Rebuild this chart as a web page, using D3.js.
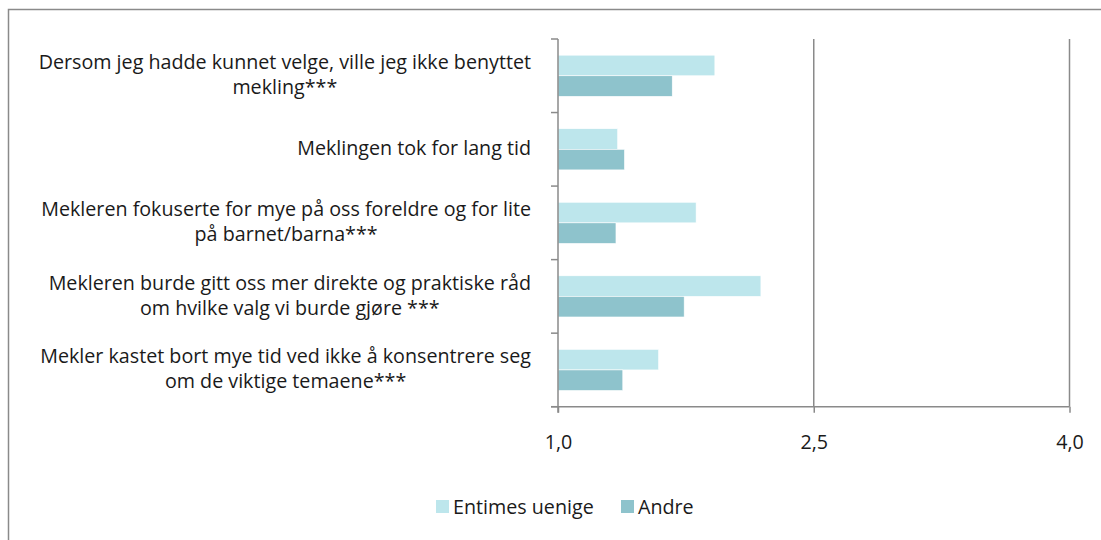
<!DOCTYPE html>
<html>
<head>
<meta charset="utf-8">
<script src="https://cdn.jsdelivr.net/npm/d3@7"></script>
<style>
  html, body { margin: 0; padding: 0; background: #fff; }
  svg { display: block; }
  text { font-family: "Open Sans", Roboto, sans-serif; fill: #1a1a1a; }
</style>
</head>
<body>
<svg id="chart"></svg>
<script>
'use strict';

// chart data
const categories = [
  'Dersom jeg hadde kunnet velge, ville jeg ikke benyttet\nmekling***',
  'Meklingen tok for lang tid',
  'Mekleren fokuserte for mye på oss foreldre og for lite\npå barnet/barna***',
  'Mekleren burde gitt oss mer direkte og praktiske råd\nom hvilke valg vi burde gjøre ***',
  'Mekler kastet bort mye tid ved ikke å konsentrere seg\nom de viktige temaene***'
];
const seriesNames = ['Entimes uenige', 'Andre'];
const entimes = [1.92, 1.35, 1.81, 2.19, 1.59];
const andre = [1.67, 1.39, 1.34, 1.74, 1.38];
const tickValues = [1.0, 2.5, 4.0];

const W = 1101, H = 540;
const colors = ['#bde6ec', '#8ec3cc'];
const axisGray = '#8a8a8a';
const fontSize = 19.7;
const fontFamily = '"Open Sans", Roboto, sans-serif';

const svg = d3.select('#chart').attr('width', W).attr('height', H);

// outer frame (only left and top show inside the picture)
svg.append('rect')
  .attr('x', 8.5).attr('y', 9.5)
  .attr('width', W + 20).attr('height', H + 20)
  .attr('fill', 'none').attr('stroke', axisGray).attr('stroke-width', 1.5);

const yTop = 39, yBottom = 406.7;
const x = d3.scaleLinear().domain([1, 4]).range([558, 1069.5]);
const y = d3.scaleBand().domain(d3.range(categories.length))
  .range([yTop, yBottom]).paddingInner(0.44).paddingOuter(0.22);
const ySub = d3.scaleBand().domain([0, 1]).range([0, y.bandwidth()]);
const step = y.step();

// vertical gridlines at the non-origin ticks
svg.append('g')
  .selectAll('line')
  .data(tickValues.slice(1))
  .join('line')
  .attr('x1', d => x(d)).attr('x2', d => x(d))
  .attr('y1', yTop).attr('y2', yBottom)
  .attr('stroke', axisGray).attr('stroke-width', 1.5);

// bars
const rows = categories.map((c, i) => ({ i, vals: [entimes[i], andre[i]] }));
const groups = svg.append('g')
  .selectAll('g')
  .data(rows)
  .join('g')
  .attr('transform', d => `translate(0,${y(d.i)})`);
groups.selectAll('rect')
  .data(d => d.vals.map((v, s) => ({ v, s })))
  .join('rect')
  .attr('x', x(1))
  .attr('y', d => ySub(d.s))
  .attr('width', d => x(d.v) - x(1))
  .attr('height', ySub.bandwidth())
  .attr('fill', d => colors[d.s])
  .attr('stroke', '#fff').attr('stroke-width', 0.6);

// left axis with category-boundary ticks
const leftAxis = svg.append('g');
leftAxis.append('line')
  .attr('x1', x(1)).attr('x2', x(1))
  .attr('y1', yTop).attr('y2', yBottom + 6)
  .attr('stroke', axisGray).attr('stroke-width', 1.5);
leftAxis.selectAll('line.tick')
  .data(d3.range(categories.length + 1))
  .join('line')
  .attr('class', 'tick')
  .attr('x1', x(1) - 7).attr('x2', x(1))
  .attr('y1', d => yTop + d * step).attr('y2', d => yTop + d * step)
  .attr('stroke', axisGray).attr('stroke-width', 1.5);

// bottom axis
const xAxis = d3.axisBottom(x)
  .tickValues(tickValues)
  .tickSize(6)
  .tickPadding(22)
  .tickFormat(d => d3.format('.1f')(d).replace('.', ','));
const gx = svg.append('g')
  .attr('transform', `translate(0,${yBottom})`)
  .call(xAxis);
gx.select('.domain').remove();
gx.append('line')
  .attr('x1', x(1) - 7).attr('x2', x(4))
  .attr('stroke', axisGray).attr('stroke-width', 1.5);
gx.selectAll('.tick line').attr('stroke', axisGray).attr('stroke-width', 1.5);
gx.selectAll('.tick text')
  .style('font-family', fontFamily)
  .style('font-size', fontSize + 'px')
  .attr('fill', '#1a1a1a');

// category labels: centred lines, block right-aligned to the axis
const lineH = 25;
const labels = svg.append('g');
categories.forEach((c, i) => {
  const lines = c.split('\n');
  const cy = y(i) + y.bandwidth() / 2;
  const t = labels.append('text')
    .attr('font-size', fontSize)
    .attr('text-anchor', 'middle');
  const spans = t.selectAll('tspan')
    .data(lines)
    .join('tspan')
    .text(d => d);
  // width of the widest line sets the block's centre
  let maxW = 0;
  spans.each(function () { maxW = Math.max(maxW, this.getComputedTextLength()); });
  const cx = 531 - maxW / 2;
  spans.attr('x', cx)
    .attr('y', (d, k) => cy + 6 + (k - (lines.length - 1) / 2) * lineH);
});

// legend
const legend = svg.append('g').attr('transform', 'translate(0,507)');
const legendX = [436, 621];
seriesNames.forEach((n, k) => {
  legend.append('rect')
    .attr('x', legendX[k]).attr('y', -7)
    .attr('width', 13).attr('height', 13)
    .attr('fill', colors[k]);
  legend.append('text')
    .attr('x', legendX[k] + 17).attr('y', 7)
    .attr('font-size', fontSize)
    .text(n);
});
</script>
</body>
</html>
